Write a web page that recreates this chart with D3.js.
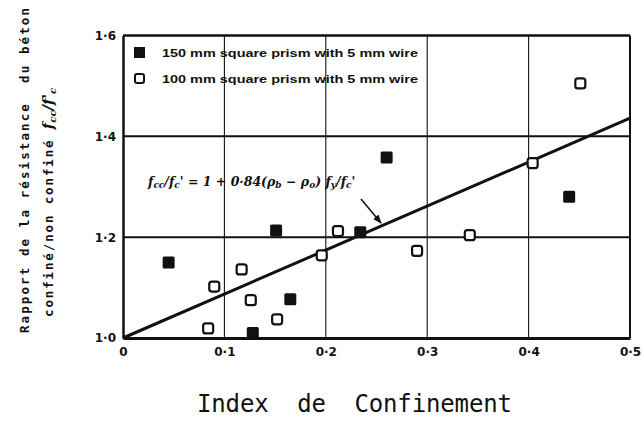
<!DOCTYPE html>
<html><head><meta charset="utf-8">
<script src="https://cdn.jsdelivr.net/npm/d3@7"></script>
<style>
html,body{margin:0;padding:0;background:#fff;}
svg{display:block;}
</style></head>
<body>
<svg id="chart" width="642" height="422"></svg>
<script>
// ---- data ----
const xTicks = [0, 0.1, 0.2, 0.3, 0.4, 0.5];
const yTicks = [1.0, 1.2, 1.4, 1.6];
const xGrid = [0.1, 0.2, 0.3, 0.4];
const yGrid = [1.2, 1.4];
const prism150 = [ // filled squares [index, ratio]
  [0.045, 1.150], [0.128, 1.010], [0.165, 1.077], [0.151, 1.213],
  [0.234, 1.210], [0.260, 1.358], [0.440, 1.280]
];
const prism100 = [ // open squares
  [0.084, 1.019], [0.090, 1.102], [0.117, 1.136], [0.126, 1.075],
  [0.152, 1.037], [0.196, 1.164], [0.212, 1.212], [0.290, 1.173],
  [0.342, 1.204], [0.404, 1.347], [0.451, 1.505]
];
const fitLine = [[0, 1.0], [0.5, 1.436]];
const legendLabels = ["150 mm square prism with 5 mm wire", "100 mm square prism with 5 mm wire"];
const xTitle = "Index  de  Confinement";
const yTitle1 = "Rapport de la résistance  du béton";
const yTitle2 = "confiné/non confiné ";

// ---- layout ----
const svg = d3.select("#chart");
const W = 642, H = 422;
const m = {left: 123, right: 12, top: 35.5, bottom: 84};
const x = d3.scaleLinear().domain([0, 0.5]).range([m.left, W - m.right]);
const y = d3.scaleLinear().domain([1.0, 1.6]).range([H - m.bottom, m.top]);
const fmt = d => d === 0 ? "0" : d3.format(".1f")(d).replace(".", "·");

// grid
svg.append("g").selectAll("line").data(xGrid).join("line")
  .attr("x1", d => x(d)).attr("x2", d => x(d))
  .attr("y1", y(1.6)).attr("y2", y(1.0))
  .attr("stroke", "#111").attr("stroke-width", 1.1);
svg.append("g").selectAll("line").data(yGrid).join("line")
  .attr("x1", x(0)).attr("x2", x(0.5))
  .attr("y1", d => y(d)).attr("y2", d => y(d))
  .attr("stroke", "#111").attr("stroke-width", 2);

// frame
svg.append("line").attr("x1", x(0)).attr("x2", x(0.5)).attr("y1", y(1.6)).attr("y2", y(1.6))
  .attr("stroke", "#111").attr("stroke-width", 2.5);
svg.append("line").attr("x1", x(0.5)).attr("x2", x(0.5)).attr("y1", y(1.6)).attr("y2", y(1.0))
  .attr("stroke", "#111").attr("stroke-width", 2);

// axes
const xAxis = svg.append("g").attr("transform", `translate(0,${y(1.0)})`)
  .call(d3.axisBottom(x).tickValues(xTicks).tickFormat(fmt).tickSize(0).tickPadding(9));
const yAxis = svg.append("g").attr("transform", `translate(${x(0)},0)`)
  .call(d3.axisLeft(y).tickValues(yTicks).tickFormat(fmt).tickSize(0).tickPadding(7));
[xAxis, yAxis].forEach(g => {
  g.selectAll("text").attr("font-family", "DejaVu Sans").attr("font-weight", "bold")
    .attr("font-size", 12).attr("fill", "#111");
});
xAxis.select(".domain").attr("stroke", "#111").attr("stroke-width", 3);
yAxis.select(".domain").attr("stroke", "#111").attr("stroke-width", 2.5);

// fit line
svg.append("path").datum(fitLine)
  .attr("d", d3.line().x(d => x(d[0])).y(d => y(d[1])))
  .attr("stroke", "#111").attr("stroke-width", 3).attr("fill", "none");

// equation
const eq = svg.append("text").attr("x", 148).attr("y", 186)
  .attr("font-family", "DejaVu Serif").attr("font-style", "italic").attr("font-weight", "bold")
  .attr("font-size", 12.5).attr("fill", "#111");
eq.append("tspan").text("f");
eq.append("tspan").attr("font-size", 9).attr("dy", 2).text("cc");
eq.append("tspan").attr("dy", -2).text("/f");
eq.append("tspan").attr("font-size", 9).attr("dy", 2).text("c");
eq.append("tspan").attr("dy", -2).text("'  =  1 + 0·84(ρ");
eq.append("tspan").attr("font-size", 9).attr("dy", 2).text("b");
eq.append("tspan").attr("dy", -2).text(" − ρ");
eq.append("tspan").attr("font-size", 9).attr("dy", 2).text("o");
eq.append("tspan").attr("dy", -2).text(") f");
eq.append("tspan").attr("font-size", 9).attr("dy", 2).text("y");
eq.append("tspan").attr("dy", -2).text("/f");
eq.append("tspan").attr("font-size", 9).attr("dy", 2).text("c");
eq.append("tspan").attr("dy", -2).text("'");

// arrow
svg.append("defs").append("marker").attr("id", "ah").attr("viewBox", "0 0 10 10")
  .attr("refX", 9).attr("refY", 5).attr("markerWidth", 6).attr("markerHeight", 6)
  .attr("orient", "auto").append("path").attr("d", "M0,1 L10,5 L0,9 Z").attr("fill", "#111");
svg.append("line").attr("x1", 361).attr("y1", 199).attr("x2", 381).attr("y2", 223)
  .attr("stroke", "#111").attr("stroke-width", 1.5).attr("marker-end", "url(#ah)");

// points
const S = 12;
svg.append("g").selectAll("rect").data(prism150).join("rect")
  .attr("x", d => x(d[0]) - S / 2).attr("y", d => y(d[1]) - S / 2)
  .attr("width", S).attr("height", S).attr("rx", 1.5).attr("fill", "#111");
svg.append("g").selectAll("rect").data(prism100).join("rect")
  .attr("x", d => x(d[0]) - (S - 2) / 2).attr("y", d => y(d[1]) - (S - 2) / 2)
  .attr("width", S - 2).attr("height", S - 2).attr("rx", 2.5)
  .attr("fill", "#fff").attr("stroke", "#111").attr("stroke-width", 2.2);

// legend
const lg = svg.append("g");
const ly = [53, 79];
lg.append("rect").attr("x", 134).attr("y", ly[0] - 6).attr("width", 11).attr("height", 11).attr("fill", "#111");
lg.append("rect").attr("x", 135).attr("y", ly[1] - 5).attr("width", 9).attr("height", 9).attr("rx", 2)
  .attr("fill", "#fff").attr("stroke", "#111").attr("stroke-width", 2);
lg.selectAll("text").data(legendLabels).join("text")
  .attr("x", 162).attr("y", (d, i) => ly[i] + 4)
  .attr("font-family", "Liberation Sans").attr("font-weight", "bold").attr("font-size", 10.5)
  .attr("textLength", 256).attr("lengthAdjust", "spacingAndGlyphs")
  .attr("fill", "#111").text(d => d);

// axis titles
svg.append("text").attr("x", 197).attr("y", 412)
  .attr("font-family", "DejaVu Sans Mono").attr("font-size", 24).attr("fill", "#111")
  .attr("textLength", 315).style("white-space", "pre").text(xTitle);

const yt = svg.append("g").attr("transform", "translate(29,333) rotate(-90)");
yt.append("text").attr("x", 0).attr("y", 0)
  .attr("font-family", "DejaVu Sans Mono").attr("font-weight", "bold").attr("font-size", 12.5)
  .attr("textLength", 325).style("white-space", "pre").attr("fill", "#111").text(yTitle1);
const t2 = yt.append("text").attr("x", 16).attr("y", 24)
  .attr("font-family", "DejaVu Sans Mono").attr("font-weight", "bold").attr("font-size", 12.5)
  .style("white-space", "pre").attr("fill", "#111");
t2.append("tspan").attr("textLength", 186).text(yTitle2);
t2.append("tspan").attr("font-family", "DejaVu Serif").attr("font-style", "italic").attr("font-size", 15).text("f");
t2.append("tspan").attr("font-family", "DejaVu Serif").attr("font-style", "italic").attr("font-size", 10).attr("dy", 3).text("cc");
t2.append("tspan").attr("font-family", "DejaVu Serif").attr("font-style", "italic").attr("font-size", 15).attr("dy", -3).text("/f'");
t2.append("tspan").attr("font-family", "DejaVu Serif").attr("font-style", "italic").attr("font-size", 10).attr("dy", 3).text("c");
</script>
</body></html>
